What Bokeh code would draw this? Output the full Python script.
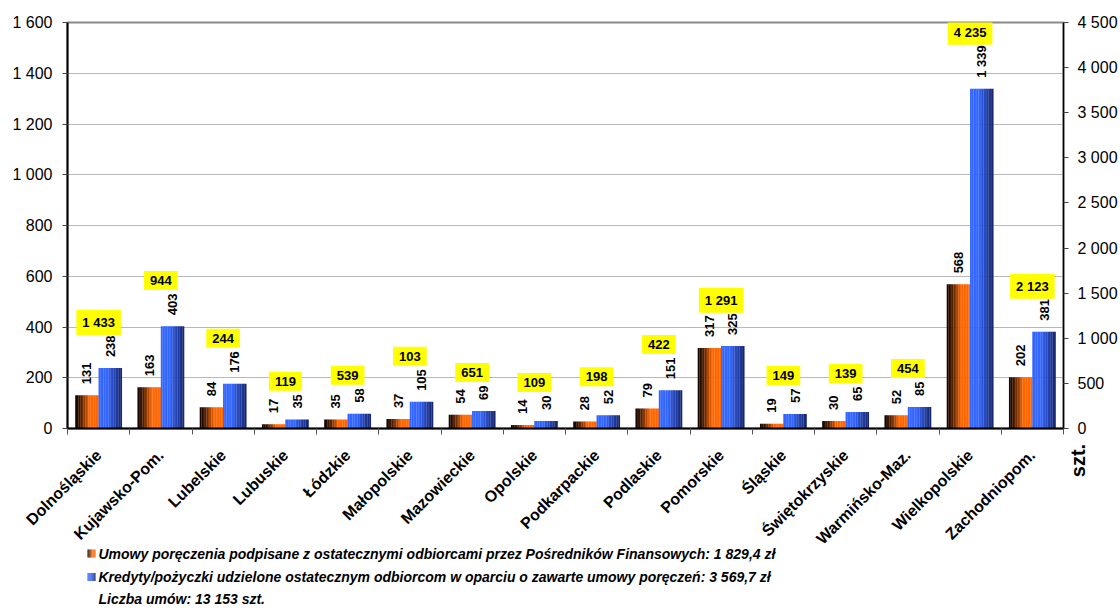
import numpy as np
from math import pi
from bokeh.plotting import figure
from bokeh.layouts import column
from bokeh.models import Range1d, LinearAxis, FixedTicker, ColumnDataSource, GridBox
from bokeh.core.properties import value
from bokeh.embed import file_html
from bokeh.resources import INLINE

# ---------------- data ----------------
regions = ["Dolnośląskie", "Kujawsko-Pom.", "Lubelskie", "Lubuskie", "Łódzkie",
           "Małopolskie", "Mazowieckie", "Opolskie", "Podkarpackie", "Podlaskie",
           "Pomorskie", "Śląskie", "Świętokrzyskie", "Warmińsko-Maz.",
           "Wielkopolskie", "Zachodniopom."]
umowy = [131, 163, 84, 17, 35, 37, 54, 14, 28, 79, 317, 19, 30, 52, 568, 202]
kredyty = [238, 403, 176, 35, 58, 105, 69, 30, 52, 151, 325, 57, 65, 85, 1339, 381]
liczba = [1433, 944, 244, 119, 539, 103, 651, 109, 198, 422, 1291, 149, 139, 454, 4235, 2123]
left_ticks = list(range(0, 1601, 200))
right_ticks = list(range(0, 4501, 500))
legend_texts = [
    "Umowy poręczenia podpisane z ostatecznymi odbiorcami przez Pośredników Finansowych: 1 829,4 zł",
    "Kredyty/pożyczki udzielone ostatecznym odbiorcom w oparciu o zawarte umowy poręczeń: 3 569,7 zł",
    "Liczba umów: 13 153 szt.",
]
unit_label = "szt."

FONT = "Liberation Sans"
W, H = 1120, 608


def fmt(v):
    return f"{v:,}".replace(",", " ")


def text_px(s, size):
    return sum(0.278 if ch == " " else 0.556 for ch in s) * size


def hex2rgb(h):
    h = h.lstrip("#")
    return tuple(int(h[i:i + 2], 16) for i in (0, 2, 4))


def lerp(c1, c2, t):
    a, b = hex2rgb(c1), hex2rgb(c2)
    return "#%02x%02x%02x" % tuple(int(round(a[i] + (b[i] - a[i]) * t)) for i in range(3))


def orange_col(t):
    return lerp("#140500", "#ff6600", min(t / 0.6, 1.0) ** 1.5)


def blue_col(t):
    return "#3366ff" if t < 0.4 else lerp("#3366ff", "#16246a", ((t - 0.4) / 0.6) ** 0.85)


# ---------------- main chart ----------------
p = figure(width=W, height=H, x_range=Range1d(-0.5, 15.5), y_range=Range1d(0, 1600),
           output_backend="svg", toolbar_location=None,
           min_border_left=67, min_border_right=57, min_border_top=22, min_border_bottom=180)
p.background_fill_color = "white"
p.border_fill_color = "white"
p.outline_line_color = "#8a8a8a"
p.outline_line_width = 2

p.xgrid.visible = False
p.ygrid.ticker = FixedTicker(ticks=left_ticks)
p.ygrid.grid_line_color = "#b8b8b8"
p.ygrid.grid_line_width = 1

# left axis
ya = p.yaxis[0]
ya.ticker = FixedTicker(ticks=left_ticks)
ya.major_label_overrides = {t: fmt(t) for t in left_ticks}
ya.axis_line_color = "black"
ya.axis_line_width = 2
ya.major_tick_out = 5
ya.major_tick_in = 0
ya.minor_tick_line_color = None
ya.major_tick_line_color = "#444444"
ya.major_label_standoff = 10
ya.major_label_text_font = FONT
ya.major_label_text_font_size = "16px"
ya.major_label_text_color = "black"

# right axis
p.extra_y_ranges = {"right": Range1d(0, 4500)}
ra = LinearAxis(y_range_name="right", ticker=FixedTicker(ticks=right_ticks),
                major_label_overrides={t: fmt(t) for t in right_ticks})
ra.axis_line_color = "black"
ra.axis_line_width = 1.5
ra.major_tick_out = 5
ra.major_tick_in = 0
ra.minor_tick_line_color = None
ra.major_tick_line_color = "#444444"
ra.major_label_standoff = 9
ra.major_label_text_font = FONT
ra.major_label_text_font_size = "16px"
ra.major_label_text_color = "black"
p.add_layout(ra, "right")

# x axis
idx = np.arange(len(regions))
xa = p.xaxis[0]
xa.ticker = FixedTicker(ticks=list(idx), minor_ticks=[i - 0.5 for i in range(len(regions) + 1)])
xa.major_label_overrides = {int(i): r for i, r in enumerate(regions)}
xa.major_label_orientation = pi / 4
xa.major_tick_out = 0
xa.major_tick_in = 0
xa.minor_tick_out = 6
xa.minor_tick_in = 0
xa.minor_tick_line_color = "#555555"
xa.axis_line_color = "black"
xa.axis_line_width = 2
xa.major_label_standoff = 18
xa.major_label_text_font = FONT
xa.major_label_text_font_size = "16px"
xa.major_label_text_font_style = "bold"
xa.major_label_text_color = "black"

# bars with simulated horizontal gradient
BW = 0.375
N = 14
for series, off, colfn in [(umowy, -BW / 2, orange_col), (kredyty, BW / 2, blue_col)]:
    for k in range(N):
        t = (k + 0.5) / N
        xs = idx + off - BW / 2 + (k + 0.5) * BW / N
        p.vbar(x=xs, top=series, bottom=0, width=BW / N * 1.1,
               fill_color=colfn(t), line_color=None)

# value labels (rotated)
LBL_SIZE = 13
vals = umowy + kredyty
lbl_src = ColumnDataSource(dict(
    x=np.concatenate([idx - BW / 2, idx + BW / 2]),
    y=vals,
    text=[fmt(v) for v in vals],
))
p.text(x="x", y="y", text="text", source=lbl_src, angle=pi / 2,
       text_align="left", text_baseline="middle", y_offset=-11,
       text_font=value(FONT), text_font_style="bold", text_font_size=f"{LBL_SIZE}px",
       text_color="black")

# yellow count labels placed above the taller bar's label
top_vals = [max(a, b) for a, b in zip(umowy, kredyty)]
yoff = [-(11 + text_px(fmt(v), LBL_SIZE) + 3 + 10) for v in top_vals]
box_src = ColumnDataSource(dict(x=idx, y=top_vals, text=[fmt(v) for v in liczba], yoff=yoff))
p.text(x="x", y="y", text="text", source=box_src, y_offset="yoff",
       text_align="center", text_baseline="middle",
       text_font=value(FONT), text_font_style="bold", text_font_size="13px",
       text_color="black", background_fill_color="#ffff00", padding=(6, 5))

# ---------------- overlay for texts outside the plot frame ----------------
q = figure(width=W, height=H, x_range=Range1d(0, W), y_range=Range1d(0, H),
           output_backend="svg", toolbar_location=None, min_border=0,
           min_border_left=0, min_border_right=0, min_border_top=0, min_border_bottom=0,
           x_axis_location=None, y_axis_location=None)
q.outline_line_color = None
q.background_fill_color = None
q.border_fill_color = None
q.xgrid.visible = False
q.ygrid.visible = False

# unit label of the right axis
q.text(x=[1077.5], y=[H - 460], text=[unit_label], angle=pi / 2,
       text_align="center", text_baseline="middle",
       text_font=value(FONT), text_font_style="bold", text_font_size="20px",
       text_color="black")

# legend
leg_y = [H - 553, H - 576.5, H - 598.5]
q.text(x=[98] * 3, y=leg_y, text=legend_texts, text_align="left", text_baseline="middle",
       text_font=value(FONT), text_font_style="bold italic", text_font_size="14px",
       text_color="black")
SQ = 8
for yy, colfn in zip(leg_y[:2], [orange_col, blue_col]):
    for k in range(N):
        t = (k + 0.5) / N
        q.quad(left=[87 + k * SQ / N], right=[87 + (k + 1.1) * SQ / N],
               bottom=[yy - SQ / 2], top=[yy + SQ / 2],
               fill_color=colfn(t), line_color=None)

layout = GridBox(children=[(p, 0, 0), (column(q), 0, 0)])
open("out.html", "w").write(file_html(layout, INLINE))
